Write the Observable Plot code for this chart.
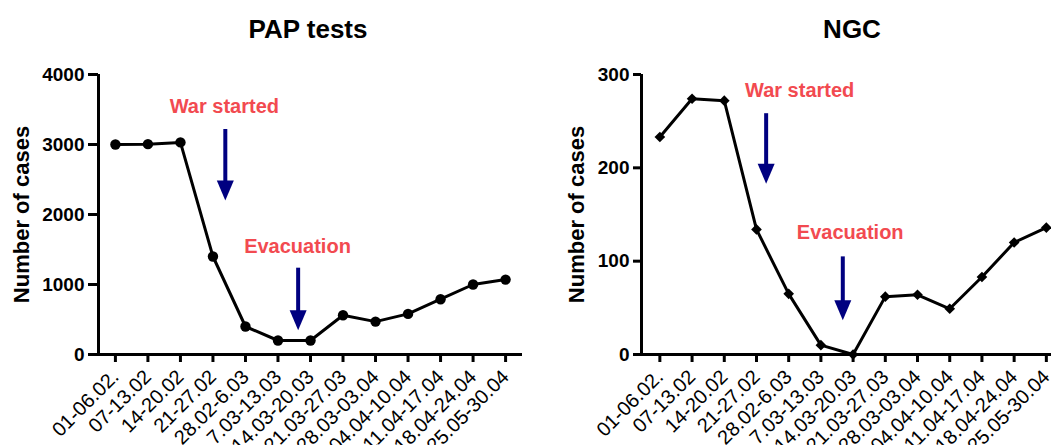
<!DOCTYPE html>
<html><head><meta charset="utf-8">
<script src="https://cdn.jsdelivr.net/npm/d3@7"></script>
<script src="https://cdn.jsdelivr.net/npm/@observablehq/plot@0.6"></script>
<style>
body{margin:0;background:#fff;font-family:"Liberation Sans",Arial,sans-serif;}
#wrap{position:relative;width:1051px;height:445px;overflow:hidden;background:#fff;}
.panel{position:absolute;top:0;height:445px;}
.title{position:absolute;top:14px;font-size:26px;line-height:30px;font-weight:bold;transform:translateX(-50%);white-space:nowrap;color:#000;}
.panel svg{position:absolute;top:50px;left:0;overflow:visible;}
.panel svg g[aria-label="y-axis tick label"]{font-weight:bold;}
</style></head><body>
<div id="wrap"></div>
<script>
// ---- data ----
const periods = ["01-06.02.","07-13.02","14-20.02","21-27.02","28.02-6.03","7.03-13.03","14.03-20.03","21.03-27.03","28.03-03.04","04.04-10.04","11.04-17.04","18.04-24.04","25.05-30.04"];
const papTests = [3000,3005,3030,1400,400,200,200,560,470,580,790,1000,1070];
const ngcCases = [233,274,272,134,65,10,0,62,64,49,83,120,136];
const papTicks = [0,1000,2000,3000,4000];
const ngcTicks = [0,100,200,300];
const noteLabels = ["War started","Evacuation"];
// annotation anchors in data units (period index, value)
const papNoteText = [[3.35,3443],[5.6,1443]];
const papNoteArrow = [[3.38,3214,2200],[5.62,1233,347]];
const ngcNoteText = [[4.34,276],[5.91,124]];
const ngcNoteArrow = [[3.30,258,183],[5.68,104.6,36.8]];

const arrowHead = {draw(ctx){ctx.moveTo(-8.5,-20);ctx.lineTo(8.5,-20);ctx.lineTo(0,0);ctx.closePath();}};

function chart({title, titleX, left, values, ticks, yMax, xDomain, width, marginLeft, marginRight, symbol, r, noteText, noteArrow, tickSize, labelDx}) {
  const data = values.map((v,i)=>({i, v}));
  const notes = noteLabels.map((label,k)=>({label, tx: noteText[k][0], ty: noteText[k][1], ax: noteArrow[k][0], ay1: noteArrow[k][1], ay2: noteArrow[k][2]}));
  const svg = Plot.plot({
    width, height: 395, marginLeft, marginRight, marginTop: 24, marginBottom: 91,
    style: {fontFamily: "Liberation Sans, Arial, sans-serif", background: "white", overflow: "visible", color: "black"},
    x: {domain: xDomain, axis: null},
    y: {domain: [0, yMax], axis: null},
    marks: [
      Plot.axisX({ticks: d3.range(periods.length), tickFormat: i => periods[i], tickRotate: -45, tickSize: 8, tickPadding: 11, fontSize: 20, strokeWidth: 3, label: null}),
      Plot.axisY({ticks, tickFormat: d => String(d), tickSize, tickPadding: 4, fontSize: 19, fontWeight: "bold", strokeWidth: 3, label: null}),
      Plot.ruleX([xDomain[0]], {strokeWidth: 3, stroke: "black"}),
      Plot.ruleY([0], {x1: xDomain[0] - 0.2, x2: xDomain[1], strokeWidth: 3, stroke: "black"}),
      Plot.text(["Number of cases"], {frameAnchor: "left", textAnchor: "middle", rotate: -90, dx: labelDx, fontSize: 22, fontWeight: "bold", fill: "black"}),
      Plot.line(data, {x: "i", y: "v", strokeWidth: 3, stroke: "black"}),
      Plot.dot(data, {x: "i", y: "v", symbol, r, fill: "black", stroke: "none"}),
      Plot.ruleX(notes, {x: "ax", y1: "ay1", y2: "ay2", stroke: "#000080", strokeWidth: 4, insetBottom: 12}),
      Plot.dot(notes, {x: "ax", y: "ay2", symbol: arrowHead, r: 5, fill: "#000080", stroke: "none"}),
      Plot.text(notes, {x: "tx", y: "ty", text: "label", fill: "#f24a50", fontSize: 20, fontWeight: "bold", lineAnchor: "bottom"})
    ]
  });
  const panel = document.createElement("div");
  panel.className = "panel";
  panel.style.left = left + "px";
  panel.style.width = width + "px";
  const t = document.createElement("div");
  t.className = "title";
  t.textContent = title;
  t.style.left = (titleX - left) + "px";
  panel.appendChild(t);
  panel.appendChild(svg);
  document.getElementById("wrap").appendChild(panel);
}

chart({title: "PAP tests", titleX: 308, left: 0, values: papTests, ticks: papTicks, yMax: 4000,
  xDomain: [-0.52, 12.52], width: 530, marginLeft: 98, marginRight: 8, symbol: "circle", r: 5.2,
  noteText: papNoteText, noteArrow: papNoteArrow, tickSize: 10, labelDx: -77});
chart({title: "NGC", titleX: 852, left: 530, values: ngcCases, ticks: ngcTicks, yMax: 300,
  xDomain: [-0.57, 12.16], width: 521, marginLeft: 111, marginRight: 0, symbol: "diamond2", r: 4.8,
  noteText: ngcNoteText, noteArrow: ngcNoteArrow, tickSize: 8, labelDx: -64.5});
</script>
</body></html>
